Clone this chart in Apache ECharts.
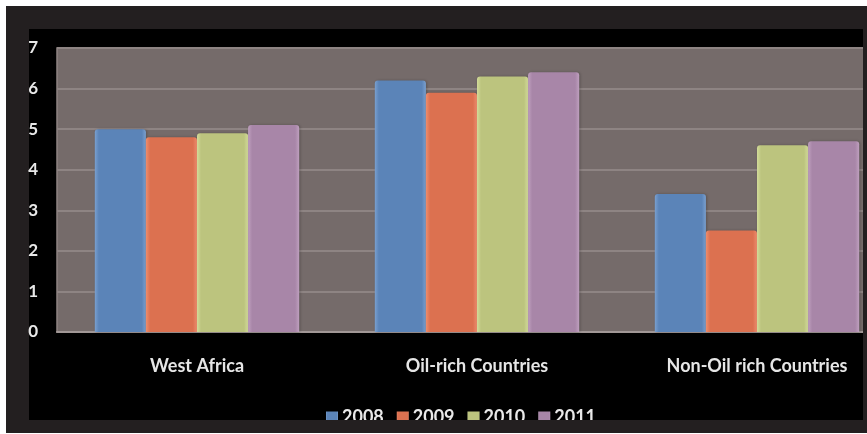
<!DOCTYPE html>
<html>
<head>
<meta charset="utf-8">
<script src="https://cdn.jsdelivr.net/npm/echarts@6/dist/echarts.min.js"></script>
<style>
  html, body { margin: 0; padding: 0; background: #ffffff; }
  #chart { width: 867px; height: 434px; }
</style>
</head>
<body>
<div id="chart"></div>
<script>
// Regions compared
const categories = ['West Africa', 'Oil-rich Countries', 'Non-Oil rich Countries'];
// Yearly values per region
const years = ['2008', '2009', '2010', '2011'];
const values2008 = [5.0, 6.2, 3.4];
const values2009 = [4.8, 5.9, 2.5];
const values2010 = [4.9, 6.3, 4.6];
const values2011 = [5.1, 6.4, 4.7];
const yTicks = [0, 1, 2, 3, 4, 5, 6, 7];

const seriesValues = [values2008, values2009, values2010, values2011];
const barColors = ['#5b84b8', '#dc7150', '#bcc47e', '#a886a8'];
const barLight = ['#7aa0cf', '#ee8d6e', '#d3dc9a', '#bfa0bf'];

const FONT = 'Lato';

const chart = echarts.init(document.getElementById('chart'), null, { renderer: 'canvas' });

function barFill(i) {
  // soft bevel: lighter edges fading into the base colour
  return new echarts.graphic.LinearGradient(0, 0, 1, 0, [
    { offset: 0, color: barLight[i] },
    { offset: 0.08, color: barColors[i] },
    { offset: 0.92, color: barColors[i] },
    { offset: 1, color: barLight[i] }
  ]);
}

const option = {
  backgroundColor: '#ffffff',
  animation: false,
  graphic: [
    // outer frame
    { type: 'rect', z: -10, silent: true, shape: { x: 6, y: 6, width: 861, height: 427 }, style: { fill: '#231f20' } },
    // black chart area
    { type: 'rect', z: -9, silent: true, shape: { x: 29, y: 29, width: 834, height: 391 }, style: { fill: '#000000' } },
    // frame edges drawn over the plot and legend
    { type: 'rect', z: 100, zlevel: 1, silent: true, shape: { x: 863, y: 6, width: 4, height: 427 }, style: { fill: '#231f20' } },
    { type: 'rect', z: 100, zlevel: 1, silent: true, shape: { x: 6, y: 420, width: 861, height: 13 }, style: { fill: '#231f20' } }
  ],
  grid: {
    left: 57, top: 48, width: 840, height: 284,
    outerBoundsMode: 'none',
    containLabel: false,
    show: true,
    backgroundColor: '#756b6a',
    borderColor: '#8e8483',
    borderWidth: 1.5
  },
  legend: {
    data: years,
    bottom: 8,
    left: 326,
    itemWidth: 12,
    itemHeight: 11,
    itemGap: 13,
    icon: 'rect',
    textStyle: { color: '#e8e8e8', fontFamily: FONT, fontWeight: 'bold', fontSize: 18, padding: [0, 0, 0, -1] },
    padding: 0
  },
  xAxis: {
    type: 'category',
    data: categories,
    axisLine: { show: true, lineStyle: { color: '#a19796', width: 2 } },
    axisTick: { show: false },
    axisLabel: { color: '#e6e6e6', fontFamily: FONT, fontWeight: 'bold', fontSize: 18, margin: 25 }
  },
  yAxis: {
    type: 'value',
    min: 0, max: 7, interval: 1,
    axisLine: { show: false },
    axisTick: { show: false },
    splitLine: { show: true, lineStyle: { color: '#8e8483', width: 2 } },
    axisLabel: {
      color: '#e8e8e8', fontFamily: FONT, fontWeight: 'bold', fontSize: 17, margin: 19,
      formatter: function (v) { return yTicks.indexOf(v) >= 0 ? String(v) : ''; }
    }
  },
  series: years.map(function (y, i) {
    return {
      name: y,
      type: 'bar',
      data: seriesValues[i],
      barGap: '0%',
      barCategoryGap: '27%',
      itemStyle: {
        color: barFill(i),
        borderRadius: [3, 3, 0, 0],
        shadowColor: 'rgba(0,0,0,0.25)',
        shadowBlur: 3,
        shadowOffsetX: 1
      }
    };
  })
};

chart.setOption(option);
</script>
</body>
</html>
